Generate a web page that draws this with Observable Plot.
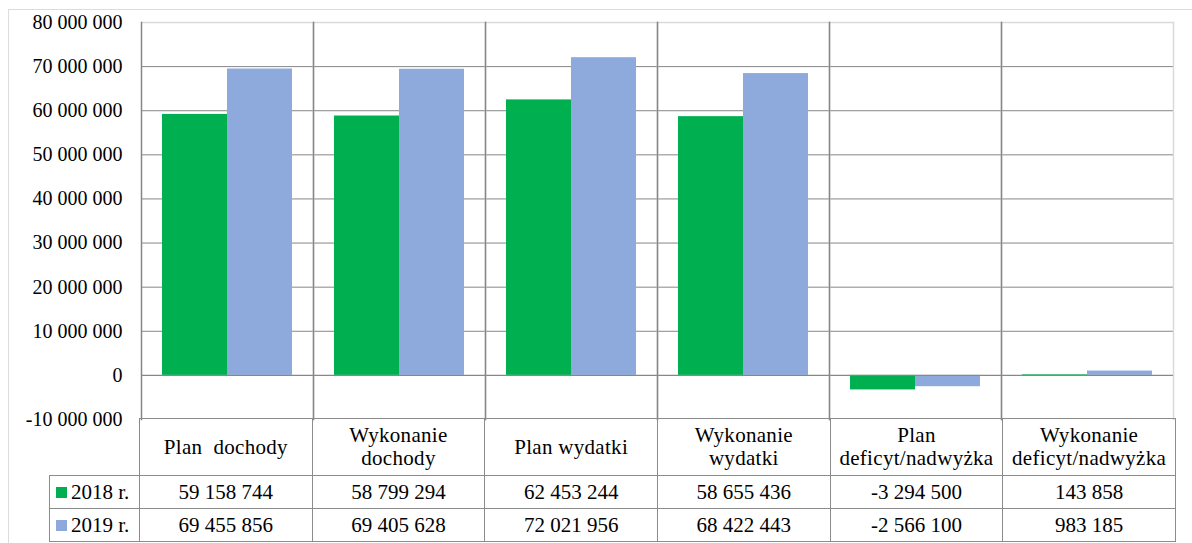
<!DOCTYPE html>
<html>
<head>
<meta charset="utf-8">
<script src="https://cdn.jsdelivr.net/npm/d3@7"></script>
<script src="https://cdn.jsdelivr.net/npm/@observablehq/plot@0.6"></script>
<style>
  html, body { margin: 0; padding: 0; background: #fff; }
  #wrap { position: relative; width: 1192px; height: 543px; overflow: hidden; color: #000; font-family: 'Liberation Serif', serif; }
  #outer { position: absolute; left: 8px; top: 9px; width: 1200px; height: 560px; border: 1.5px solid #dcdcdc; box-sizing: border-box; }
  #chart { position: absolute; left: 0; top: 0; }
  #tbl { position: absolute; left: 49px; top: 418px; border-collapse: collapse; table-layout: fixed; font-size: 21px; font-family: 'Liberation Serif', serif; }
  #tbl td { border: 1.5px solid #8c8c8c; text-align: center; padding: 0; line-height: 23px; white-space: pre; }
  #tbl td.corner { border-top: hidden; border-left: hidden; }
  #tbl td.head { letter-spacing: 0.3px; }
  #tbl td.rowlab { text-align: left; padding-left: 6px; white-space: nowrap; }
  .key { display: inline-block; width: 11px; height: 11px; margin-right: 4px; vertical-align: 1px; }
</style>
</head>
<body>
<div id="wrap">
  <div id="outer"></div>
  <div id="chart"></div>
  <table id="tbl"></table>
</div>
<script>
const categories = ["Plan dochody", "Wykonanie dochody", "Plan wydatki", "Wykonanie wydatki", "Plan deficyt/nadwyżka", "Wykonanie deficyt/nadwyżka"];
const categoryLabels = ["Plan  dochody", "Wykonanie\ndochody", "Plan wydatki", "Wykonanie\nwydatki", "Plan\ndeficyt/nadwyżka", "Wykonanie\ndeficyt/nadwyżka"];
const years = ["2018 r.", "2019 r."];
const colors = ["#00B050", "#8EA9DB"];
const values2018 = [59158744, 58799294, 62453244, 58655436, -3294500, 143858];
const values2019 = [69455856, 69405628, 72021956, 68422443, -2566100, 983185];
const yTicks = [-10000000, 0, 10000000, 20000000, 30000000, 40000000, 50000000, 60000000, 70000000, 80000000];

const fmt = d3.formatLocale({decimal: ",", thousands: " ", grouping: [3], currency: ["", ""], minus: "-"}).format(",d");

const series = [values2018, values2019];
const rows = [];
categories.forEach((c, i) => years.forEach((yr, j) => rows.push({category: c, year: yr, value: series[j][i]})));

const chart = Plot.plot({
  width: 1192,
  height: 420,
  marginTop: 22,
  marginBottom: 1,
  marginLeft: 139,
  marginRight: 17,
  style: {fontFamily: "'Liberation Serif', serif", fontSize: "20px", color: "#000", background: "transparent", overflow: "visible"},
  fx: {domain: categories, padding: 0, axis: null},
  x: {domain: years, paddingInner: 0, paddingOuter: 0.32, axis: null},
  y: {domain: [-10000000, 80000000], label: null},
  color: {domain: years, range: colors},
  marks: [
    Plot.ruleY(yTicks.filter(t => t > -10000000 && t < 80000000), {stroke: "#868686", strokeOpacity: 1}),
    Plot.ruleY([80000000], {stroke: "#d9d9d9", strokeOpacity: 1, strokeWidth: 1.5}),
    Plot.frame({anchor: "right", stroke: "#d9d9d9", strokeWidth: 1.5}),
    Plot.barY(rows, {fx: "category", x: "year", y: "value", fill: "year"}),
    Plot.ruleY([0], {stroke: "#868686", strokeOpacity: 1}),
    Plot.frame({anchor: "left", stroke: "#868686", strokeWidth: 1.5}),
    Plot.axisY({ticks: yTicks, tickFormat: fmt, tickSize: 0, tickPadding: 19, label: null, fontSize: 20, fill: "#000"})
  ]
});
document.getElementById("chart").appendChild(chart);

// data table
const tbl = document.getElementById("tbl");
const colgroup = document.createElement("colgroup");
const c0 = document.createElement("col"); c0.style.width = "90px"; colgroup.appendChild(c0);
categories.forEach(() => { const c = document.createElement("col"); c.style.width = (1036 / 6) + "px"; colgroup.appendChild(c); });
tbl.appendChild(colgroup);

const hr = document.createElement("tr"); hr.style.height = "57px";
const corner = document.createElement("td"); corner.className = "corner"; hr.appendChild(corner);
categoryLabels.forEach(l => { const td = document.createElement("td"); td.className = "head"; td.textContent = l; hr.appendChild(td); });
tbl.appendChild(hr);

years.forEach((yr, j) => {
  const tr = document.createElement("tr"); tr.style.height = "33px";
  const lab = document.createElement("td"); lab.className = "rowlab";
  const key = document.createElement("span"); key.className = "key"; key.style.background = colors[j];
  lab.appendChild(key); lab.appendChild(document.createTextNode(yr));
  tr.appendChild(lab);
  series[j].forEach(v => { const td = document.createElement("td"); td.textContent = fmt(v); tr.appendChild(td); });
  tbl.appendChild(tr);
});
</script>
</body>
</html>
